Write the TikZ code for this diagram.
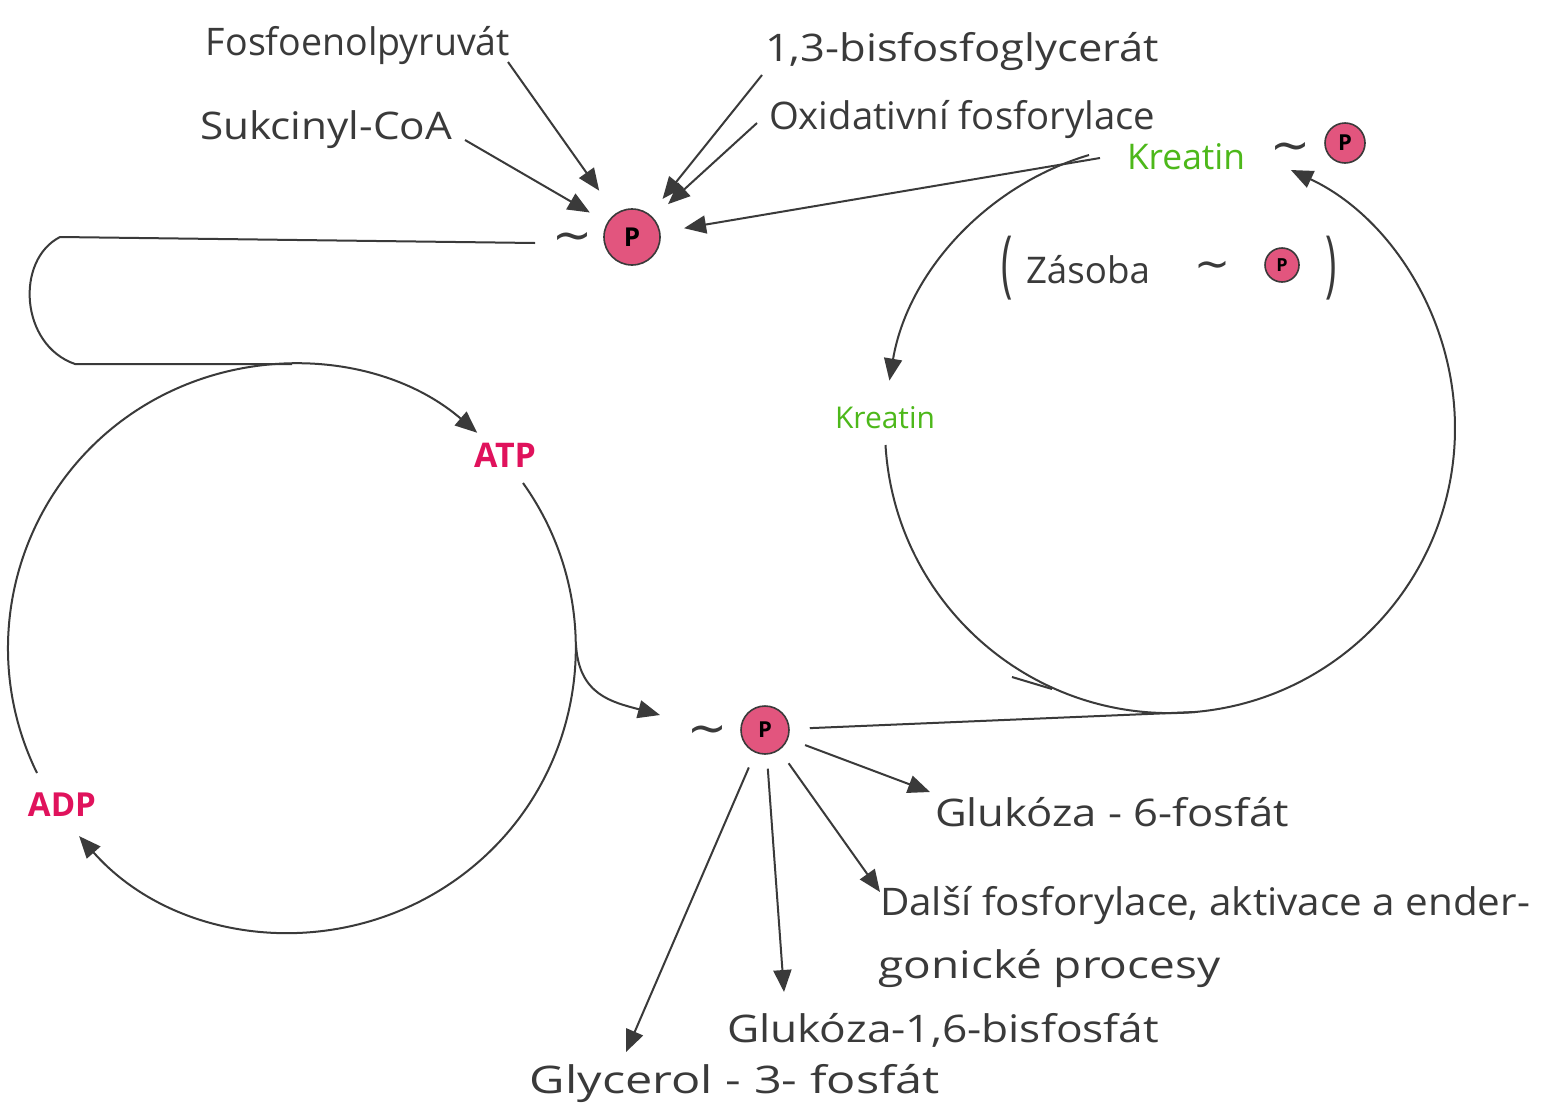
\documentclass[tikz,border=0pt]{standalone}
\usepackage{fontspec}
\usepackage{graphicx}
\setmainfont{Open Sans}
\newfontfamily\dejavu{DejaVu Sans}
\usetikzlibrary{arrows.meta}
\definecolor{ink}{HTML}{3A3A3A}
\definecolor{pinkP}{HTML}{E2557E}
\definecolor{redT}{HTML}{E0125C}
\definecolor{greenT}{HTML}{4DB81A}
\newcommand{\fitw}[2]{\resizebox{#1}{!}{#2}}
\newcommand{\hfit}[2]{\resizebox{#1}{\height}{#2}}
\newcommand{\tl}{{\dejavu ∼}}
\begin{document}
\begin{tikzpicture}[x=0.5pt,y=-0.5pt,
  inkline/.style={draw=ink, line width=1pt},
  arr/.style={inkline, -{Triangle[length=11pt,width=9pt]}},
  lbl/.style={inner sep=0pt, text=ink, font=\fontsize{19}{22}\selectfont},
  pball/.style={circle, draw=ink, line width=0.8pt, fill=pinkP, inner sep=0pt, font=\bfseries\fontsize{11}{12}\selectfont, text=black},
  tld/.style={inner sep=0pt, text=ink}
]
\useasboundingbox[fill=white] (0,0) rectangle (1545,1119);

% ---- top sources
\node[lbl] (fos) at (358,46) {\hfit{152pt}{Fosfoenolpyruvát}};
\node[lbl] (suk) at (326,130) {\hfit{126pt}{Sukcinyl-CoA}};
\node[lbl] (bis) at (962,52) {\hfit{197pt}{1,3-bisfosfoglycerát}};
\node[lbl] (oxi) at (962,120) {\hfit{193pt}{Oxidativní fosforylace}};

% ---- creatine phosphate
\node[lbl,text=greenT] (kreA) at (1186,157) {\fitw{59pt}{Kreatin}};
\node[tld] (tkre) at (1290,152) {\fitw{20pt}{\tl}};
\node[pball, minimum size=20pt] (pkre) at (1345,143) {P};

\node[lbl] (zpl) at (1007,268) {\resizebox*{\width}{32pt}{(}};
\node[lbl] (zas) at (1088,270) {\fitw{62pt}{Zásoba}};
\node[tld] (tzas) at (1212,270) {\fitw{18pt}{\tl}};
\node[pball, minimum size=17pt, font=\bfseries\fontsize{9}{10}\selectfont] (pzas) at (1282,265) {P};
\node[lbl] (zpr) at (1331,268) {\resizebox*{\width}{32pt}{)}};

% ---- top ~P
\node[tld] (ttop) at (572,242) {\fitw{20pt}{\tl}};
\node[pball, minimum size=28pt, font=\bfseries\fontsize{13}{14}\selectfont] (ptop) at (632,237) {P};

% ---- ATP / ADP / Kreatin
\node[lbl, text=redT] (atp) at (505,455) {\fitw{31pt}{\bfseries ATP}};
\node[lbl, text=redT] (adp) at (62,805) {\fitw{34pt}{\bfseries ADP}};
\node[lbl, text=greenT] (kreB) at (885,418) {\fitw{50pt}{Kreatin}};

% ---- bottom ~P
\node[tld] (tbot) at (707,735) {\fitw{20pt}{\tl}};
\node[pball, minimum size=24pt, font=\bfseries\fontsize{11}{12}\selectfont] (pbot) at (765,730) {P};

% ---- products
\node[lbl] (g6) at (1112,812) {\hfit{177pt}{Glukóza - 6-fosfát}};
\node[lbl] (dal) at (1205,905) {\hfit{325pt}{Další fosforylace, aktivace a ender-}};
\node[lbl, anchor=west] (gon) at (878,968) {\hfit{171pt}{gonické procesy}};
\node[lbl] (g16) at (943,1030) {\hfit{216pt}{Glukóza-1,6-bisfosfát}};
\node[lbl] (gly) at (735,1083) {\hfit{205pt}{Glycerol - 3- fosfát}};

% ---- arrow start/end coordinates
\coordinate (fosS) at (508,62);
\coordinate (sukS) at (465,140);
\coordinate (bisS) at (762,75);
\coordinate (oxiS) at (757,123);
\coordinate (kreS) at (1100,158);
\coordinate (tipG6) at (930,792);
\coordinate (tipDal) at (880,892);
\coordinate (tipG16) at (784,992);
\coordinate (tipGly) at (626,1052);
\coordinate (rbot) at (1195,712);
\coordinate (loopS) at (535,243);
\coordinate (loopA) at (60,237);
\coordinate (loopB) at (75,364);
\coordinate (loopC) at (292,364);

% ---- arrows into top ~P
\draw[arr, shorten >=14pt] (fosS) -- (ptop);
\draw[arr, shorten >=10pt] (sukS) -- (ptop);
\draw[arr, shorten >=10pt] (bisS) -- (ptop);
\draw[arr, shorten >=10pt] (oxiS) -- (ptop);
\draw[arr, shorten >=12pt] (kreS) -- (ptop);

% ---- loop from top ~P to the left cycle
\draw[inkline] (loopS) -- (loopA) .. controls (15,260) and (20,345) .. (loopB) -- (loopC);

% ---- left cycle (centre 292,648 ; r 284)
\draw[arr] (37,773) arc[start angle=153.9, end angle=310.7, radius=284];
\draw[arr] (523,483) arc[start angle=-35.5, end angle=138.5, radius=284];
\draw[arr] (576,645) .. controls (579,695) and (612,702) .. (660,715);

% ---- right cycle (centre 1170,428 ; r 285)
\draw[arr] (1089,155) arc[start angle=253.4, end angle=189.6, radius=285];
\draw[arr] (885.5,445) arc[start angle=176.6, end angle=-64.9, radius=285];
\draw[inkline] (1012,677) -- (1052,689);

% ---- bottom ~P connections
\draw[inkline, shorten <=10pt] (pbot) -- (rbot);
\draw[arr, shorten <=9pt] (pbot) -- (tipG6);
\draw[arr, shorten <=8pt] (pbot) -- (tipDal);
\draw[arr, shorten <=7pt] (pbot) -- (tipG16);
\draw[arr, shorten <=8pt] (pbot) -- (tipGly);
\end{tikzpicture}
\end{document}
